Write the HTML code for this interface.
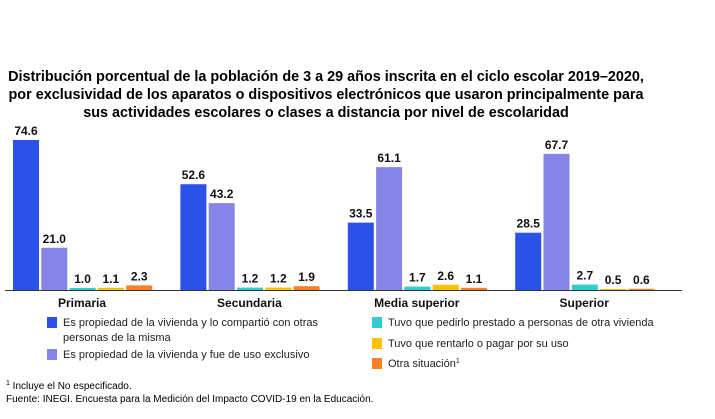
<!DOCTYPE html>
<html><head><meta charset="utf-8"><style>
body{margin:0;background:#fff;width:715px;height:414px;overflow:hidden;font-family:"Liberation Sans",Arial,sans-serif}
</style></head><body>
<svg width="715" height="414" xmlns="http://www.w3.org/2000/svg">
<g font-weight="bold" font-size="14.4" text-anchor="middle" fill="#000">
<text x="326" y="81">Distribución porcentual de la población de 3 a 29 años inscrita en el ciclo escolar 2019–2020,</text>
<text x="326" y="99">por exclusividad de los aparatos o dispositivos electrónicos que usaron principalmente para</text>
<text x="326" y="117">sus actividades escolares o clases a distancia por nivel de escolaridad</text>
</g>
<g id="bars"></g>
<line x1="5" y1="290.5" x2="682" y2="290.5" stroke="#333" stroke-width="1"/>
<g id="legend" font-size="11" fill="#222"></g>
<g font-size="10" fill="#000">
<text x="6" y="389"><tspan font-size="7" dy="-4">1</tspan><tspan dy="4"> Incluye el No especificado.</tspan></text>
<text x="6" y="402">Fuente: INEGI. Encuesta para la Medición del Impacto COVID-19 en la Educación.</text>
</g>
</svg>
<script>
const categories=["Primaria","Secundaria","Media superior","Superior"];
const compartido=[74.6,52.6,33.5,28.5];
const exclusivo=[21.0,43.2,61.1,67.7];
const prestado=[1.0,1.2,1.7,2.7];
const rentado=[1.1,1.2,2.6,0.5];
const otra=[2.3,1.9,1.1,0.6];
const seriesNames=["Es propiedad de la vivienda y lo compartió con otras|personas de la misma","Es propiedad de la vivienda y fue de uso exclusivo","Tuvo que pedirlo prestado a personas de otra vivienda","Tuvo que rentarlo o pagar por su uso","Otra situación"];
const series=[compartido,exclusivo,prestado,rentado,otra];
const colors=["#2a52e8","#8585e8","#33cccc","#ffc000","#ff7f27"];
const NS="http://www.w3.org/2000/svg";
const base=290, scale=150/74.6;
const y=v=>base-v*scale;
const gx=i=>13+i*167.4;
const bx=(i,s)=>gx(i)+s*28.3;
const bw=26;
const bars=document.getElementById('bars');
function mk(t,a,p){const e=document.createElementNS(NS,t);for(const k in a)e.setAttribute(k,a[k]);p.appendChild(e);return e;}
categories.forEach((c,i)=>{
  series.forEach((s,j)=>{
    const v=s[i];
    const r=mk('rect',{x:bx(i,j),y:y(v),width:bw,height:base-y(v),fill:colors[j]},bars);
    
    
    const t=mk('text',{x:bx(i,j)+bw/2,y:y(v)-5,'text-anchor':'middle','font-size':'12','font-weight':'bold',fill:'#111'},bars);
    t.textContent=v.toFixed(1);
    
    
  });
  const l=mk('text',{x:gx(i)+69,y:307,'text-anchor':'middle','font-size':'12','font-weight':'bold',fill:'#111'},bars);
  l.textContent=c;
  
  
});
const lg=document.getElementById('legend');
const lpos=[[47,322],[47,354],[372,322],[372,343],[372,363]];
seriesNames.forEach((n,j)=>{
  const [x,yy]=lpos[j];
  const g=mk('g',{},lg);
  
  
  mk('rect',{x:x,y:yy-5,width:10,height:11,fill:colors[j]},g);
  const parts=n.split('|');
  parts.forEach((p,k)=>{
    const t=mk('text',{x:x+16,y:yy+4+k*15},g);
    t.textContent=p;
    if(j==4){const s=mk('tspan',{'font-size':'7',dy:'-4'},t);s.textContent='1';}
  });
});
</script>
</body></html>
